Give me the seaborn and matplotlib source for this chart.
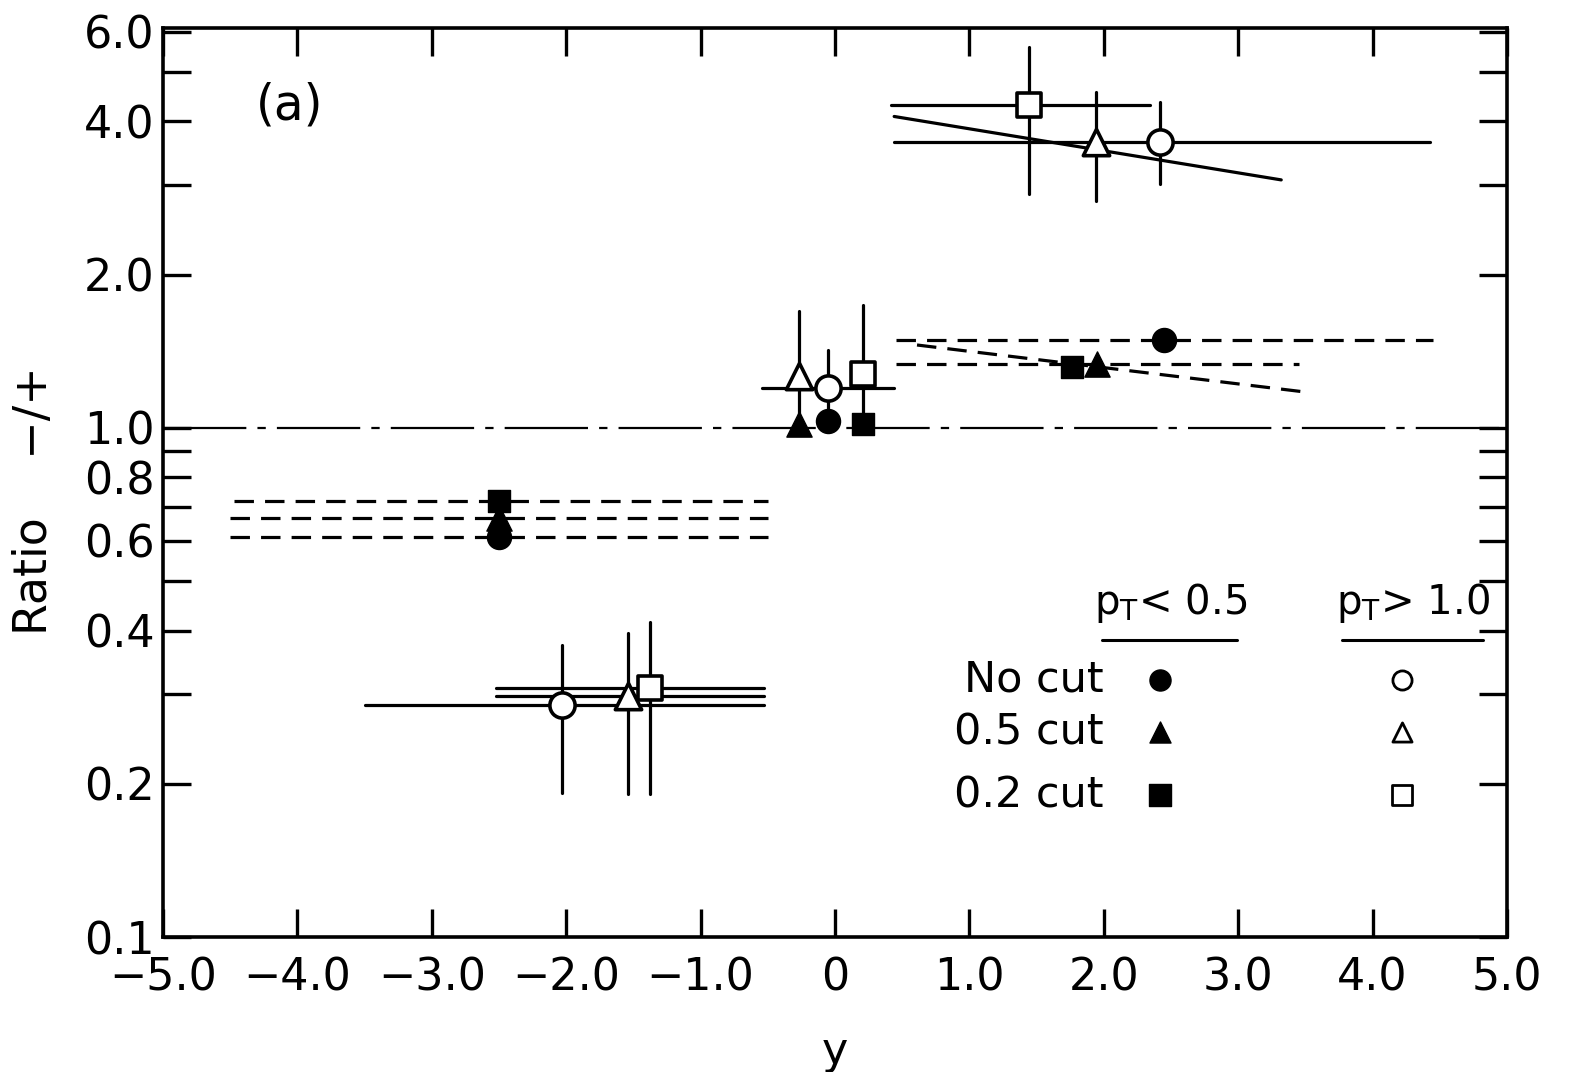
import numpy as np
import pandas as pd
import matplotlib
matplotlib.use("Agg")
import matplotlib.pyplot as plt
import seaborn as sns

# ---------------- data ----------------
# pT < 0.5 (filled markers), dashed horizontal bin lines
nocut_x = [-2.5, -0.05, 2.45]
nocut_r = [0.61, 1.03, 1.49]
nocut_xlo = [-4.5, np.nan, 0.45]
nocut_xhi = [-0.5, np.nan, 4.45]

cut05_x = [-2.5, -0.27, 1.95]
cut05_r = [0.665, 1.02, 1.335]
cut05_xlo = [-4.5, np.nan, 0.45]
cut05_xhi = [-0.5, np.nan, 3.45]

cut02_x = [-2.5, 0.21, 1.76]
cut02_r = [0.72, 1.02, 1.32]
cut02_xlo = [-4.47, np.nan, np.nan]
cut02_xhi = [-0.5, np.nan, np.nan]

# pT > 1.0 (open markers), solid bin lines and vertical error bars
open_circ_x = [-2.03, -0.05, 2.42]
open_circ_r = [0.286, 1.20, 3.64]
open_circ_lo = [0.192, 1.06, 3.02]
open_circ_hi = [0.374, 1.42, 4.36]
open_circ_xlo = [-3.5, -0.54, 0.44]
open_circ_xhi = [-0.53, 0.44, 4.43]

open_tri_x = [-1.54, -0.27, 1.94]
open_tri_r = [0.298, 1.265, 3.65]
open_tri_lo = [0.191, 1.01, 2.79]
open_tri_hi = [0.395, 1.70, 4.56]
open_tri_xlo = [-2.52, np.nan, np.nan]
open_tri_xhi = [-0.53, np.nan, np.nan]

open_sq_x = [-1.38, 0.21, 1.44]
open_sq_r = [0.308, 1.276, 4.30]
open_sq_lo = [0.191, 1.05, 2.88]
open_sq_hi = [0.415, 1.74, 5.61]
open_sq_xlo = [-2.52, np.nan, 0.42]
open_sq_xhi = [-0.53, np.nan, 2.34]

# small error on left filled circle
nocut_lo = [0.585, np.nan, np.nan]

# sloped fit lines
fit_solid_x = [0.44, 3.32]
fit_solid_r = [4.09, 3.07]
fit_dash_x = [0.61, 3.49]
fit_dash_r = [1.455, 1.177]

xtick_vals = [-5, -4, -3, -2, -1, 0, 1, 2, 3, 4, 5]
xtick_labels = ["\u22125.0", "\u22124.0", "\u22123.0", "\u22122.0", "\u22121.0", "0",
                "1.0", "2.0", "3.0", "4.0", "5.0"]
ytick_vals = [0.1, 0.2, 0.3, 0.4, 0.5, 0.6, 0.7, 0.8, 0.9, 1.0, 2.0, 3.0, 4.0, 5.0, 6.0]
ytick_labels = ["0.1", "0.2", "", "0.4", "", "0.6", "", "0.8", "", "1.0",
                "2.0", "", "4.0", "", "6.0"]

# ---------------- figure ----------------
sns.set_theme(style="ticks")
plt.rcParams["font.family"] = ["DejaVu Sans"]
plt.rcParams["lines.scale_dashes"] = False
plt.rcParams["text.color"] = "black"
plt.rcParams["axes.labelcolor"] = "black"

fig = plt.figure(figsize=(15.69, 10.72), dpi=100)
ax = fig.add_axes([0.1039, 0.1259, 0.8566, 0.8479])
ax.set_yscale("log")
ax.set_xlim(-5, 5)
ax.set_ylim(0.1, 6.1)

LW = 2.3
DASH = (14, 8)

# reference line at ratio 1
ax.plot([-5, 5], [1.0, 1.0], color="black", lw=1.6,
        dashes=(60, 8, 6, 8), zorder=1)

def hlines(xs, rs, xlo, xhi, dashed):
    for x, r, a, b in zip(xs, rs, xlo, xhi):
        if np.isnan(a):
            continue
        kw = dict(color="black", lw=LW, zorder=2)
        if dashed:
            kw["dashes"] = DASH
        ax.plot([a, b], [r, r], **kw)

def vbars(xs, lo, hi):
    for x, a, b in zip(xs, lo, hi):
        if np.isnan(a):
            continue
        ax.plot([x, x], [a, b], color="black", lw=LW, zorder=2)

hlines(nocut_x, nocut_r, nocut_xlo, nocut_xhi, True)
hlines(cut05_x, cut05_r, cut05_xlo, cut05_xhi, True)
hlines(cut02_x, cut02_r, cut02_xlo, cut02_xhi, True)
hlines(open_circ_x, open_circ_r, open_circ_xlo, open_circ_xhi, False)
hlines(open_tri_x, open_tri_r, open_tri_xlo, open_tri_xhi, False)
hlines(open_sq_x, open_sq_r, open_sq_xlo, open_sq_xhi, False)

vbars(open_circ_x, open_circ_lo, open_circ_hi)
vbars(open_tri_x, open_tri_lo, open_tri_hi)
vbars(open_sq_x, open_sq_lo, open_sq_hi)
vbars(nocut_x, nocut_lo, nocut_r)

# sloped lines
fit_df = pd.DataFrame({"x": fit_solid_x, "r": fit_solid_r})
sns.lineplot(data=fit_df, x="x", y="r", color="black", lw=LW, ax=ax, zorder=2)
fitd_df = pd.DataFrame({"x": fit_dash_x, "r": fit_dash_r})
sns.lineplot(data=fitd_df, x="x", y="r", color="black", lw=LW, ax=ax, zorder=2,
             dashes=False)
ax.lines[-1].set_dashes(DASH)

def pts(xs, rs, marker, size, filled):
    df = pd.DataFrame({"x": xs, "r": rs})
    sns.scatterplot(data=df, x="x", y="r", marker=marker, s=size,
                    color="black" if filled else "white",
                    edgecolor="black", linewidth=2.6 if not filled else 1.0,
                    ax=ax, zorder=4, legend=False)

pts(nocut_x, nocut_r, "o", 300, True)
pts(cut05_x, cut05_r, "^", 330, True)
pts(cut02_x, cut02_r, "s", 250, True)
pts(open_circ_x, open_circ_r, "o", 330, False)
pts(open_tri_x, open_tri_r, "^", 360, False)
pts(open_sq_x, open_sq_r, "s", 300, False)

# ---------------- axes styling ----------------
ax.set_xticks(xtick_vals)
ax.set_xticklabels(xtick_labels)
ax.set_yticks(ytick_vals)
ax.set_yticklabels(ytick_labels)
ax.yaxis.set_minor_locator(matplotlib.ticker.NullLocator())
ax.tick_params(axis="both", which="major", direction="in", length=20, width=2.4,
               labelsize=32, top=True, right=True, color="black", labelcolor="black")
ax.tick_params(axis="x", pad=14)
ax.tick_params(axis="y", pad=6)
for s in ax.spines.values():
    s.set_linewidth(2.6)
    s.set_color("black")
ax.set_xlabel("y", fontsize=32, labelpad=22)
ax.set_ylabel("Ratio    \u2212/+", fontsize=33)
ax.yaxis.set_label_coords(-0.079, 0.48)
ax.grid(False)

ax.text(0.094, 0.915, "(a)", transform=ax.transAxes, fontsize=35,
        ha="center", va="center")

# legend drawn as text + markers
tr = ax.transAxes
ax.text(0.750, 0.368, r"p$_\mathregular{T}$< 0.5", transform=tr, fontsize=29,
        ha="center", va="center")
ax.text(0.930, 0.368, r"p$_\mathregular{T}$> 1.0", transform=tr, fontsize=29,
        ha="center", va="center")
ax.plot([0.6987, 0.799], [0.327, 0.327], transform=tr, color="black", lw=2.2)
ax.plot([0.877, 0.982], [0.327, 0.327], transform=tr, color="black", lw=2.2)
rows_y = [0.283, 0.2255, 0.156]
row_labels = ["No cut", "0.5 cut", "0.2 cut"]
row_markers = ["o", "^", "s"]
for yy, lab, mk in zip(rows_y, row_labels, row_markers):
    ax.text(0.700, yy, lab, transform=tr, fontsize=31, ha="right", va="center")
    ax.scatter([0.742], [yy], transform=tr, marker=mk, s=230, color="black", zorder=5)
    ax.scatter([0.922], [yy], transform=tr, marker=mk, s=190, facecolor="white",
               edgecolor="black", linewidth=2.0, zorder=5)

fig.savefig("out.png", dpi=100)
